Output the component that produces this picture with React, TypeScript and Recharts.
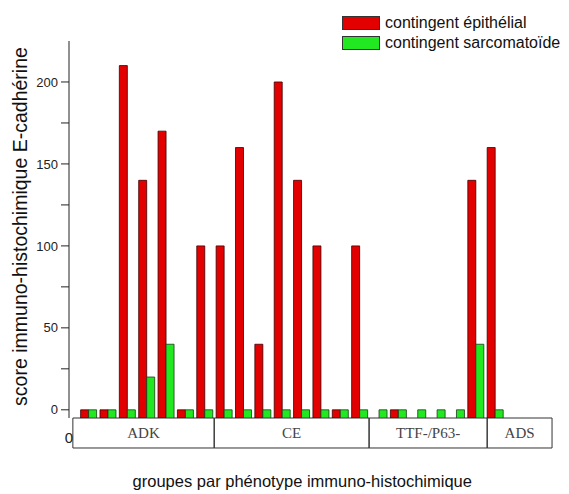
import React from 'react';
import { BarChart, Bar, XAxis, YAxis, ReferenceArea, Legend, Label } from 'recharts';

// one entry per tumour (case number), read left to right
const cases = [1, 2, 3, 4, 5, 6, 7, 8, 9, 10, 11, 12, 13, 14, 15, 16, 17, 18, 19, 20, 21, 22];
const epithelial = [0, 0, 210, 140, 170, 0, 100, 100, 160, 40, 200, 140, 100, 0, 100, null, 0, null, null, null, 140, 160];
const sarcomatoid = [0, 0, 0, 20, 40, 0, 0, 0, 0, 0, 0, 0, 0, 0, 0, 0, 0, 0, 0, 0, 40, 0];

const yTicks = [0, 25, 50, 75, 100, 125, 150, 175, 200];
const AXIS_FLOOR = -5; // bars start at the bottom of the axis, so zeros show as stubs

// phenotype groups drawn in the boxes under the axis (edges in case units)
const groupNames = ['ADK', 'CE', 'TTF-/P63-', 'ADS'];
const groupEdges = [0.2, 7.5, 15.5, 21.6, 24.95];

const RED = '#e30000';
const GREEN = '#22e822';
const SANS = '"Liberation Sans", Arial, sans-serif';
const SERIF = '"Liberation Serif", "Times New Roman", serif';

const data = cases.map((c, i) => ({ n: c, epi: epithelial[i], sarc: sarcomatoid[i] }));

const fromFloor = (key: 'epi' | 'sarc') => (d: any) => (d[key] == null ? null : [AXIS_FLOOR, d[key]]);

const legendItems = [
  { label: 'contingent épithélial', color: RED },
  { label: 'contingent sarcomatoïde', color: GREEN },
];

const LegendBox = () => (
  <div style={{ fontFamily: SANS, fontSize: 16, color: '#111' }}>
    {legendItems.map(item => (
      <div key={item.label} style={{ display: 'flex', alignItems: 'center', height: 20, whiteSpace: 'nowrap' }}>
        <span style={{ width: 36, height: 12, background: item.color, border: '1px solid #333', marginRight: 5 }} />
        {item.label}
      </div>
    ))}
  </div>
);

const YTitle = (props: any) => {
  const vb = props.viewBox;
  const cx = vb.x + 12;
  const cy = vb.y + vb.height / 2 - 3;
  return (
    <text x={cx} y={cy} transform={`rotate(-90 ${cx} ${cy})`} textAnchor="middle" dominantBaseline="central"
      fontFamily={SANS} fontSize={19.5} fill="#111">
      score immuno-histochimique E-cadhérine
    </text>
  );
};

export default function App() {
  return (
    <div style={{ position: 'absolute', left: 0, top: 0, background: '#fff' }}>
      <BarChart
        width={569}
        height={494}
        data={data}
        margin={{ top: 41, right: 16, bottom: 76, left: 8 }}
        barGap={0}
        barCategoryGap="10%"
      >
        <XAxis dataKey="n" type="number" domain={[0, 25]} allowDataOverflow hide />
        <YAxis
          width={61}
          domain={[AXIS_FLOOR, 225]}
          ticks={yTicks}
          interval={0}
          allowDataOverflow
          tickFormatter={(v: number) => (v % 50 === 0 ? String(v) : '')}
          axisLine={{ stroke: '#222' }}
          tickLine={{ stroke: '#222' }}
          tickSize={8}
          tickMargin={3}
          tick={{ fill: '#222', fontSize: 13, fontFamily: SANS }}
        >
          <Label content={YTitle} />
        </YAxis>
        <Legend
          layout="vertical"
          align="center"
          verticalAlign="middle"
          content={LegendBox}
          wrapperStyle={{ top: 13, left: 342, width: 'auto' }}
        />
        <Bar dataKey={fromFloor('epi')} name="contingent épithélial" fill={RED} stroke="#3a0000" strokeWidth={0.8} isAnimationActive={false} />
        <Bar dataKey={fromFloor('sarc')} name="contingent sarcomatoïde" fill={GREEN} stroke="#1a3a1a" strokeWidth={0.8} isAnimationActive={false} />
        {groupNames.map((g, i) => (
          <ReferenceArea
            key={g}
            x1={groupEdges[i]}
            x2={groupEdges[i + 1]}
            y1={-23.3}
            y2={AXIS_FLOOR}
            ifOverflow="visible"
            fill="none"
            stroke="#333"
            strokeWidth={1}
            label={{ value: g, position: 'center', fill: '#444', fontFamily: SERIF, fontSize: 15 }}
          />
        ))}
        {/* origin label of the x axis and the axis title, placed in data space below the boxes */}
        <ReferenceArea
          x1={-0.3}
          x2={0.3}
          y1={-22}
          y2={-12}
          ifOverflow="visible"
          fill="none"
          stroke="none"
          label={{ value: '0', position: 'center', fill: '#222', fontFamily: SANS, fontSize: 15 }}
        />
        <ReferenceArea
          x1={0}
          x2={24.1}
          y1={-47}
          y2={-40}
          ifOverflow="visible"
          fill="none"
          stroke="none"
          label={{ value: 'groupes par phénotype immuno-histochimique', position: 'center', fill: '#111', fontFamily: SANS, fontSize: 16.5 }}
        />
      </BarChart>
    </div>
  );
}
